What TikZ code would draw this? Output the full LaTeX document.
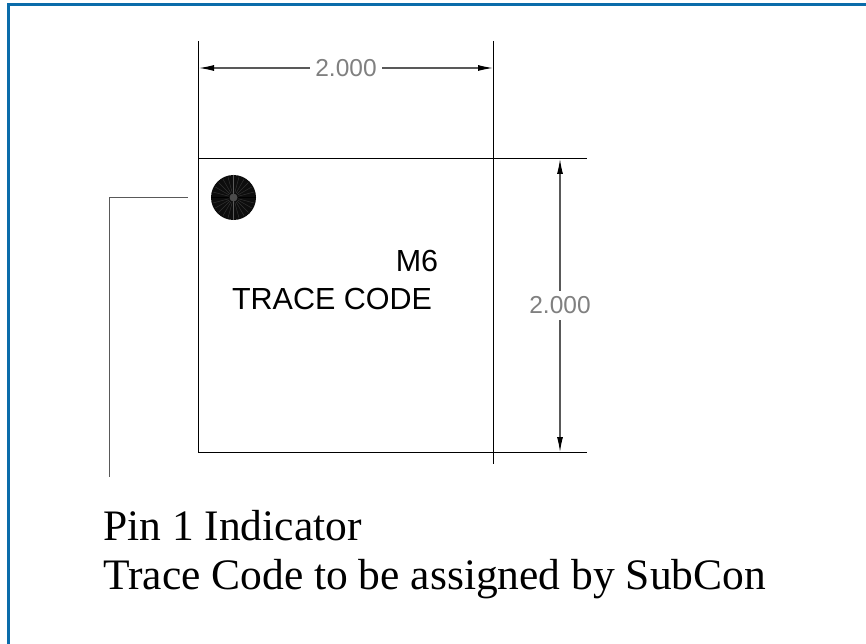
\documentclass[tikz,border=0pt]{standalone}
\usepackage{fontspec}
\setmainfont{Liberation Serif}
\setsansfont{Liberation Sans}
\usetikzlibrary{arrows.meta}
\definecolor{framecol}{HTML}{0A6CAA}
\definecolor{dimgray}{HTML}{808080}
\tikzset{
  x=1pt,y=-1pt,
  cadline/.style={draw=black,line width=1.1pt},
  dimline/.style={draw=black!65,line width=1.1pt,{Latex[length=15pt,width=6pt,black]}-{Latex[length=15pt,width=6pt,black]}},
  dimtext/.style={font=\sffamily\fontsize{24.5}{24.5}\selectfont,text=dimgray,fill=white,inner xsep=5.5pt,inner ysep=6pt},
  marktext/.style={font=\sffamily\fontsize{30.5}{30.5}\selectfont,text=black,inner sep=0pt},
  notetext/.style={font=\rmfamily\fontsize{43.5}{43.5}\selectfont,text=black,inner sep=0pt,anchor=base west},
}
\begin{document}
\begin{tikzpicture}
\useasboundingbox (0,0) rectangle (866,644);
\fill[white] (0,0) rectangle (866,644);
\draw[framecol,line width=3pt] (8.5,644) -- (8.5,4.7) -- (866,4.7);
% extension lines
\coordinate (tl) at (198.5,158.5);
\coordinate (tr) at (493.5,158.5);
\coordinate (bl) at (198.5,452.5);
\coordinate (br) at (493.5,452.5);
\coordinate (lTop) at (198.5,41);
\coordinate (rTop) at (493.5,41);
\coordinate (rBot) at (493.5,464);
\coordinate (tEnd) at (587,158.5);
\coordinate (bEnd) at (587,452.5);
\draw[cadline] (lTop) -- (bl) -- (bEnd);
\draw[cadline] (rTop) -- (rBot);
\draw[cadline] (tl) -- (tEnd);
% dimensions
\coordinate (dL) at (199,68);
\coordinate (dR) at (493,68);
\coordinate (dT) at (560,159);
\coordinate (dB) at (560,452);
\draw[dimline] (dL) -- (dR) node[midway,dimtext] (w) {2.000};
\draw[dimline] (dT) -- (dB) node[midway,dimtext] (h) {2.000};
% pin dot
\node[circle,fill=black!95,draw=none,minimum size=45pt,inner sep=0pt] (pin) at (233.5,197.5) {};
\foreach \a in {0,15,...,345}{
  \draw[black!80,line width=0.5pt] (pin.center) ++(\a:5) -- ++(\a:16);
}
\draw[black!65,line width=0.7pt] (pin.north) -- (pin.south);
\draw[black,line width=1pt] (pin.west) -- (pin.east);
\fill[black!70] (pin.center) circle (4);
% leader
\coordinate (la) at (187.5,197.5);
\coordinate (lb) at (109.5,197.5);
\coordinate (lc) at (109.5,477);
\draw[draw=black!65,line width=1.2pt] (la) -- (lb) -- (lc);
% text
\node[marktext] (m6) at (417,261) {M6};
\node[marktext] (tc) at (332,299) {TRACE CODE};
\node[notetext] (n1) at (103,540) {Pin 1 Indicator};
\node[notetext] (n2) at (103,589) {Trace Code to be assigned by SubCon};
\end{tikzpicture}
\end{document}
